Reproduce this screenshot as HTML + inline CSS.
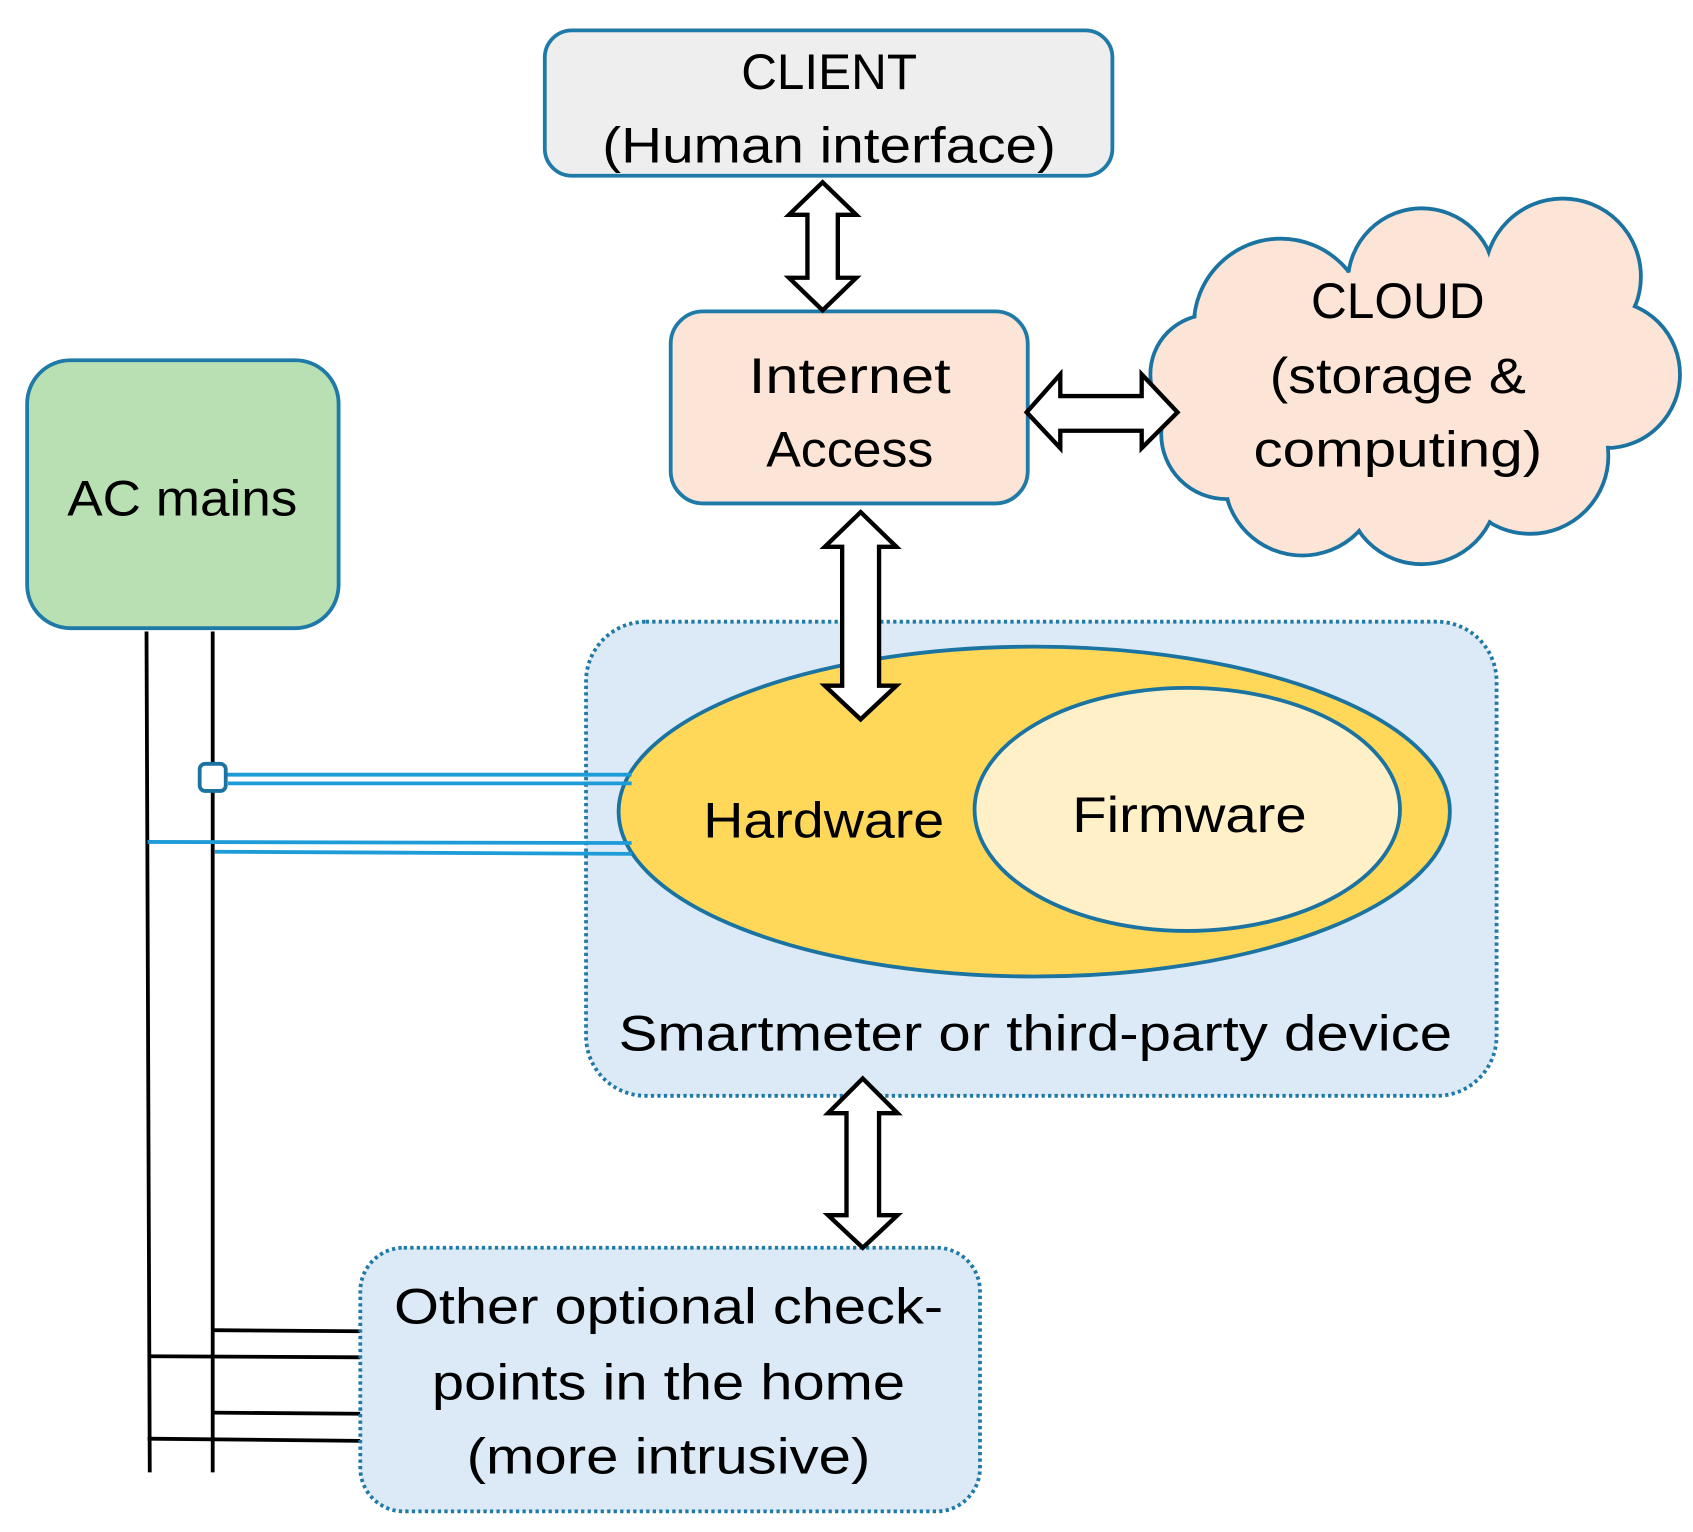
<!DOCTYPE html>
<html><head><meta charset="utf-8"><style>html,body{margin:0;padding:0;background:#fff}svg{display:block}</style></head>
<body>
<svg width="1693" height="1532" viewBox="0 0 1560 1412" preserveAspectRatio="none" xmlns="http://www.w3.org/2000/svg" font-family="Liberation Sans, sans-serif" font-size="46">
<rect width="1560" height="1412" fill="#fff"/>
<g stroke="#000" stroke-width="3.5" fill="none">
<line x1="135" y1="582" x2="138" y2="1357"/>
<line x1="196" y1="582" x2="196" y2="1357"/>
<line x1="196" y1="1226" x2="332" y2="1227"/>
<line x1="136" y1="1250" x2="332" y2="1251"/>
<line x1="196" y1="1302" x2="332" y2="1303"/>
<line x1="136" y1="1326" x2="332" y2="1328"/>
</g>
<rect x="540" y="573" width="839" height="437" rx="55" fill="#dbeaf6" stroke="#1f7aa8" stroke-width="3.5" stroke-dasharray="3 3"/>
<ellipse cx="953" cy="748" rx="383" ry="152" fill="#ffd85a" stroke="#1a73a0" stroke-width="3.5"/>
<ellipse cx="1094" cy="746" rx="196" ry="112" fill="#fff0c8" stroke="#1a73a0" stroke-width="3.5"/>
<text x="759" y="772" text-anchor="middle" textLength="222" lengthAdjust="spacingAndGlyphs">Hardware</text>
<text x="1096" y="767" text-anchor="middle" textLength="216" lengthAdjust="spacingAndGlyphs">Firmware</text>
<text x="954" y="968" text-anchor="middle" textLength="768" lengthAdjust="spacingAndGlyphs">Smartmeter or third-party device</text>
<g stroke="#1e9cd8" stroke-width="3.5" fill="none">
<line x1="196" y1="714" x2="582" y2="714"/>
<line x1="210" y1="722" x2="582" y2="722"/>
<line x1="136" y1="776" x2="582" y2="777"/>
<line x1="198" y1="785" x2="582" y2="787"/>
</g>
<rect x="184" y="704" width="24" height="25" rx="5" fill="#fff" stroke="#1a73a0" stroke-width="3.5"/>
<rect x="332" y="1150" width="571" height="243" rx="40" fill="#dbeaf6" stroke="#1f7aa8" stroke-width="3.5" stroke-dasharray="3 3"/>
<text x="616" y="1220" text-anchor="middle" textLength="506" lengthAdjust="spacingAndGlyphs">Other optional check-</text>
<text x="616" y="1290" text-anchor="middle" textLength="436" lengthAdjust="spacingAndGlyphs">points in the home</text>
<text x="616" y="1358" text-anchor="middle" textLength="372" lengthAdjust="spacingAndGlyphs">(more intrusive)</text>
<rect x="502" y="28" width="523" height="134" rx="25" fill="#eeeeee" stroke="#1f7aa8" stroke-width="3.5"/>
<text x="764" y="82" text-anchor="middle" textLength="162" lengthAdjust="spacingAndGlyphs">CLIENT</text>
<text x="764" y="150" text-anchor="middle" textLength="418" lengthAdjust="spacingAndGlyphs">(Human interface)</text>
<rect x="618" y="287" width="329" height="177" rx="30" fill="#fce4d6" stroke="#1f7aa8" stroke-width="3.5"/>
<text x="783" y="362" text-anchor="middle" textLength="186" lengthAdjust="spacingAndGlyphs">Internet</text>
<text x="783" y="430" text-anchor="middle" textLength="154" lengthAdjust="spacingAndGlyphs">Access</text>
<rect x="25" y="332" width="287" height="247" rx="40" fill="#b9e0b3" stroke="#1f7aa8" stroke-width="3.5"/>
<text x="168" y="475" text-anchor="middle" textLength="212" lengthAdjust="spacingAndGlyphs">AC mains</text>
<g fill="#fce4d6" stroke="#1a73a0" stroke-width="3.5">
<circle cx="1180" cy="300" r="80"/><circle cx="1310" cy="260" r="68"/><circle cx="1440" cy="255" r="72"/>
<circle cx="1480" cy="345" r="68"/><circle cx="1410" cy="420" r="72"/><circle cx="1310" cy="450" r="70"/>
<circle cx="1200" cy="440" r="72"/><circle cx="1130" cy="400" r="60"/><circle cx="1115" cy="345" r="55"/>
</g>
<g fill="#fce4d6">
<circle cx="1180" cy="300" r="78"/><circle cx="1310" cy="260" r="66"/><circle cx="1440" cy="255" r="70"/>
<circle cx="1480" cy="345" r="66"/><circle cx="1410" cy="420" r="70"/><circle cx="1310" cy="450" r="68"/>
<circle cx="1200" cy="440" r="70"/><circle cx="1130" cy="400" r="58"/><circle cx="1115" cy="345" r="53"/>
<ellipse cx="1300" cy="355" rx="170" ry="110"/>
</g>
<text x="1288" y="293" text-anchor="middle" textLength="160" lengthAdjust="spacingAndGlyphs">CLOUD</text>
<text x="1288" y="362" text-anchor="middle" textLength="236" lengthAdjust="spacingAndGlyphs">(storage &amp;</text>
<text x="1288" y="430" text-anchor="middle" textLength="266" lengthAdjust="spacingAndGlyphs">computing)</text>
<g fill="#fff" stroke="#000" stroke-width="4" stroke-linejoin="miter">
<polygon points="758,168 789,198 772,198 772,256 789,256 758,286 727,256 744,256 744,198 727,198"/>
<polygon points="946,380 977,345 977,365 1052,365 1052,345 1085,380 1052,413 1052,397 977,397 977,413"/>
<polygon points="793,472 826,504 810,504 810,632 826,632 793,663 760,632 776,632 776,504 760,504"/>
<polygon points="795,994 827,1026 810,1026 810,1120 827,1120 795,1150 763,1120 780,1120 780,1026 763,1026"/>
</g>
</svg>
</body></html>
